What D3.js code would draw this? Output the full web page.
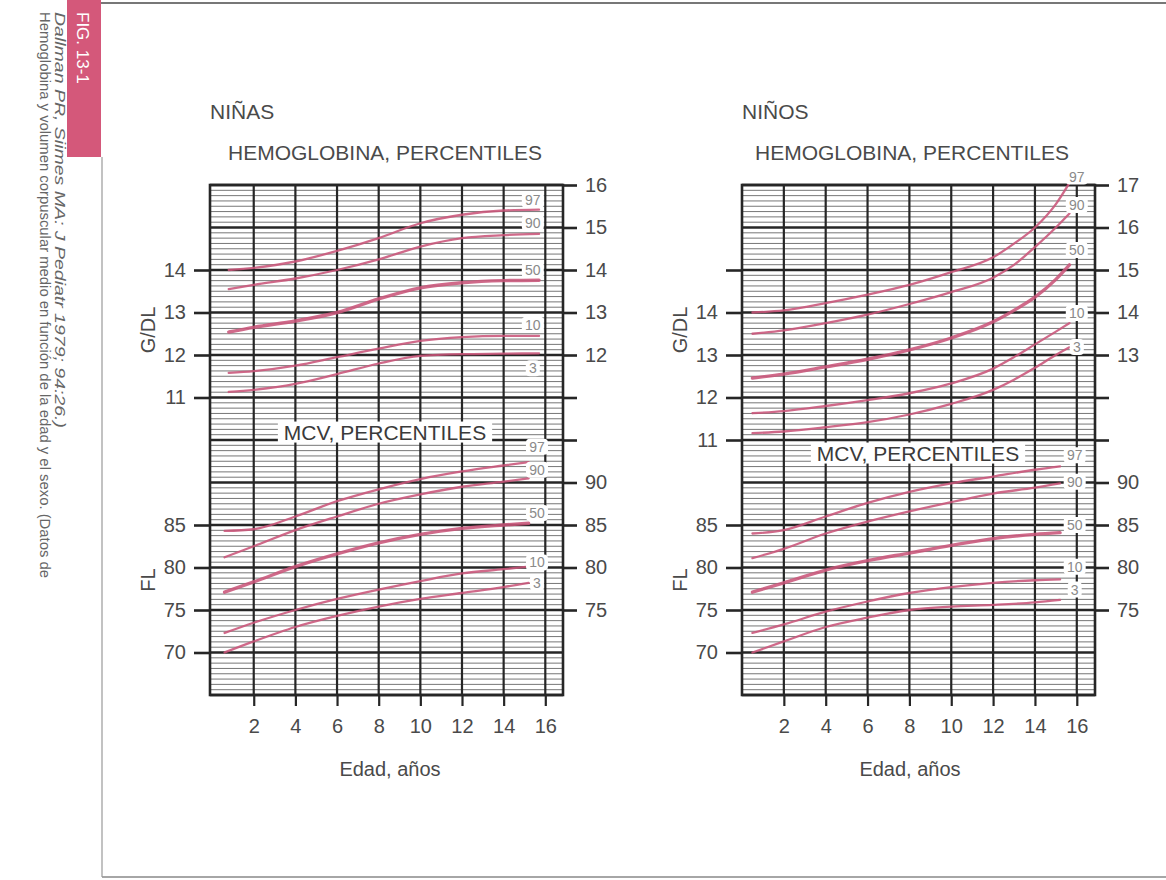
<!DOCTYPE html>
<html><head><meta charset="utf-8">
<script src="https://cdn.jsdelivr.net/npm/d3@7"></script>
<style>
body{margin:0;background:#fff}
svg{display:block}
text{font-family:"Liberation Sans",Arial,Helvetica,sans-serif}
</style>
</head><body>
<svg id="c" width="1166" height="880"></svg>
<script>
// ---------------- DATA ----------------
const percentiles = ["97", "90", "50", "10", "3"];
const xTicks = [2, 4, 6, 8, 10, 12, 14, 16];

// NIÑAS – hemoglobina (g/dL)
const ninasHbAges = [0.8, 2, 4, 6, 8, 10, 12, 14, 15.7];
const ninasHb97 = [14.0, 14.05, 14.2, 14.45, 14.75, 15.1, 15.3, 15.4, 15.42];
const ninasHb90 = [13.55, 13.65, 13.8, 14.0, 14.25, 14.55, 14.75, 14.82, 14.85];
const ninasHb50 = [12.54, 12.65, 12.8, 13.0, 13.32, 13.58, 13.7, 13.75, 13.76];
const ninasHb10 = [11.58, 11.62, 11.75, 11.95, 12.15, 12.33, 12.42, 12.45, 12.45];
const ninasHb3  = [11.13, 11.18, 11.32, 11.55, 11.8, 11.98, 12.02, 12.03, 12.04];
const ninasHbLabelLevels = [15.65, 15.11, 14.0, 12.71, 11.69];

// NIÑAS – MCV (fL)
const ninasMcvAges = [0.6, 2, 4, 6, 8, 10, 12, 14, 15.2];
const ninasMcv97 = [84.3, 84.5, 86.0, 87.8, 89.2, 90.4, 91.3, 92.0, 92.4];
const ninasMcv90 = [81.2, 82.5, 84.4, 86.0, 87.5, 88.6, 89.5, 90.1, 90.5];
const ninasMcv50 = [77.1, 78.3, 80.1, 81.6, 82.9, 83.9, 84.6, 85.0, 85.2];
const ninasMcv10 = [72.3, 73.5, 75.0, 76.3, 77.4, 78.4, 79.3, 79.8, 80.1];
const ninasMcv3  = [70.0, 71.3, 73.0, 74.3, 75.4, 76.3, 77.0, 77.7, 78.2];
const ninasMcvLabelLevels = [94.2, 91.5, 86.4, 80.6, 78.2];

// NIÑOS – hemoglobina (g/dL)
const ninosHbAges = [0.5, 2, 4, 6, 8, 10, 12, 13, 14, 15, 15.65];
const ninosHb97 = [14.0, 14.05, 14.22, 14.42, 14.65, 14.95, 15.3, 15.62, 16.0, 16.55, 17.05];
const ninosHb90 = [13.5, 13.58, 13.75, 13.95, 14.2, 14.48, 14.82, 15.12, 15.54, 16.0, 16.33];
const ninosHb50 = [12.46, 12.55, 12.72, 12.9, 13.12, 13.4, 13.78, 14.05, 14.36, 14.78, 15.12];
const ninosHb10 = [11.63, 11.68, 11.8, 11.94, 12.1, 12.33, 12.68, 12.95, 13.25, 13.55, 13.75];
const ninosHb3  = [11.16, 11.2, 11.3, 11.42, 11.6, 11.85, 12.18, 12.42, 12.7, 13.0, 13.18];
const ninosHbLabelLevels = [17.2, 16.53, 15.47, 13.99, 13.19];

// NIÑOS – MCV (fL)
const ninosMcvAges = [0.5, 2, 4, 6, 8, 10, 12, 14, 15.2];
const ninosMcv97 = [84.0, 84.4, 86.0, 87.6, 88.9, 89.9, 90.7, 91.5, 91.9];
const ninosMcv90 = [81.1, 82.2, 84.0, 85.4, 86.6, 87.7, 88.7, 89.4, 89.9];
const ninosMcv50 = [77.1, 78.2, 79.7, 80.8, 81.7, 82.6, 83.4, 83.9, 84.1];
const ninosMcv10 = [72.3, 73.3, 74.8, 76.0, 77.0, 77.7, 78.2, 78.5, 78.6];
const ninosMcv3  = [70.0, 71.3, 73.0, 74.1, 75.0, 75.4, 75.6, 75.9, 76.2];
const ninosMcvLabelLevels = [93.2, 90.1, 85.0, 80.1, 77.4];

// axis tick values
const ninasHbLeftTicks = [11, 12, 13, 14];
const ninasHbRightTicks = [10, 11, 12, 13, 14, 15, 16];
const ninasHbRightLabels = [12, 13, 14, 15, 16];
const ninosHbLeftTicks = [11, 12, 13, 14, 15];
const ninosHbLeftLabels = [11, 12, 13, 14];
const ninosHbRightTicks = [11, 12, 13, 14, 15, 16, 17];
const ninosHbRightLabels = [13, 14, 15, 16, 17];
const mcvLeftTicks = [70, 75, 80, 85];
const mcvRightTicks = [75, 80, 85, 90];

const captionLine1 = "Hemoglobina y volumen corpuscular medio en función de la edad y el sexo. (Datos de";
const captionLine2 = "Dallman PR, Siimes MA: J Pediatr 1979; 94:26.)";

// ---------------- DRAW ----------------
const svg = d3.select("#c");
const FONT_COL = "#4a4a4a";
const GRID_DARK = "#262626";
const PINK = "#c9557a";
const TOP = 185, MID = 440, BOT = 695;

// page decorations
svg.append("line").attr("x1", 100).attr("x2", 1166).attr("y1", 3).attr("y2", 3)
  .attr("stroke", "#777").attr("stroke-width", 2);
svg.append("line").attr("x1", 102).attr("x2", 1166).attr("y1", 877).attr("y2", 877)
  .attr("stroke", "#888").attr("stroke-width", 1.5);
svg.append("line").attr("x1", 102).attr("x2", 102).attr("y1", 157).attr("y2", 877)
  .attr("stroke", "#999").attr("stroke-width", 1.2);
svg.append("rect").attr("x", 67).attr("y", 0).attr("width", 34).attr("height", 157)
  .attr("fill", "#d4587a");
svg.append("text").attr("transform", "translate(77,12) rotate(90)")
  .attr("fill", "#fff").attr("font-size", 17).text("FIG. 13-1");
svg.append("text").attr("transform", "translate(40,12) rotate(90)")
  .attr("fill", "#666").attr("font-size", 14)
  .attr("textLength", 566).attr("lengthAdjust", "spacingAndGlyphs").text(captionLine1);
svg.append("text").attr("transform", "translate(55,12) rotate(90)")
  .attr("fill", "#666").attr("font-size", 14).attr("font-style", "italic")
  .attr("textLength", 416).attr("lengthAdjust", "spacingAndGlyphs").text(captionLine2);

function drawPanel(cfg) {
  const g = svg.append("g");
  const L = cfg.L, R = cfg.R;
  const x = d3.scaleLinear().domain(cfg.xDomain).range([L, R]);
  const yHb = d3.scaleLinear().domain(cfg.hbDomain).range([MID, TOP]);
  const yMcv = d3.scaleLinear().domain([65, 95]).range([BOT, MID]);
  const yGrid = d3.scaleLinear().domain([65, 125]).range([BOT, TOP]);

  // minor horizontal grid (8 subdivisions per major division)
  g.append("g").selectAll("line").data(d3.range(0, 96).filter(k => k % 8 !== 0).map(k => 65 + k * 5 / 8))
    .join("line")
    .attr("x1", L).attr("x2", R)
    .attr("y1", d => yGrid(d)).attr("y2", d => yGrid(d))
    .attr("stroke", "#5e5e5e").attr("stroke-width", 1).attr("stroke-opacity", 0.85);

  // major horizontal grid
  g.append("g").selectAll("line").data(d3.range(65, 126, 5))
    .join("line")
    .attr("x1", L).attr("x2", R)
    .attr("y1", d => yGrid(d)).attr("y2", d => yGrid(d))
    .attr("stroke", GRID_DARK).attr("stroke-width", 2.6);

  // vertical grid
  g.append("g").selectAll("line").data(xTicks)
    .join("line")
    .attr("x1", d => x(d)).attr("x2", d => x(d))
    .attr("y1", TOP).attr("y2", BOT)
    .attr("stroke", GRID_DARK).attr("stroke-width", 2.2);

  // frame
  g.append("rect").attr("x", L).attr("y", TOP).attr("width", R - L).attr("height", BOT - TOP)
    .attr("fill", "none").attr("stroke", GRID_DARK).attr("stroke-width", 2.6);

  // axes
  const styleAxis = (sel) => {
    sel.select(".domain").remove();
    sel.selectAll(".tick line").attr("stroke", GRID_DARK).attr("stroke-width", 2.6);
    sel.selectAll(".tick text").attr("fill", FONT_COL).attr("font-size", 20)
      .attr("font-family", "Liberation Sans, Arial, sans-serif");
  };
  g.append("g").attr("transform", `translate(${L},0)`)
    .call(d3.axisLeft(yHb).tickValues(cfg.hbLeftTicks).tickSize(16).tickPadding(8)
      .tickFormat(d => cfg.hbLeftLabels.includes(d) ? d : ""))
    .call(styleAxis);
  g.append("g").attr("transform", `translate(${R},0)`)
    .call(d3.axisRight(yHb).tickValues(cfg.hbRightTicks).tickSize(14).tickPadding(8)
      .tickFormat(d => cfg.hbRightLabels.includes(d) ? d : ""))
    .call(styleAxis);
  g.append("g").attr("transform", `translate(${L},0)`)
    .call(d3.axisLeft(yMcv).tickValues(mcvLeftTicks).tickSize(16).tickPadding(8))
    .call(styleAxis);
  g.append("g").attr("transform", `translate(${R},0)`)
    .call(d3.axisRight(yMcv).tickValues(mcvRightTicks).tickSize(14).tickPadding(8))
    .call(styleAxis);
  g.append("g").attr("transform", `translate(0,${BOT})`)
    .call(d3.axisBottom(x).tickValues(xTicks).tickSize(11).tickPadding(13))
    .call(styleAxis)
    .call(s => s.selectAll(".tick line").attr("stroke-width", 2.2));

  // curves
  const lineHb = d3.line().x(d => x(d[0])).y(d => yHb(d[1])).curve(d3.curveMonotoneX);
  const lineMcv = d3.line().x(d => x(d[0])).y(d => yMcv(d[1])).curve(d3.curveMonotoneX);
  cfg.hbSeries.forEach((s, i) => {
    g.append("path").datum(d3.zip(cfg.hbAges, s)).attr("d", lineHb)
      .attr("fill", "none").attr("stroke", PINK).attr("stroke-opacity", 0.88)
      .attr("stroke-width", percentiles[i] === "50" ? 3.4 : 2.3).attr("stroke-linecap", "round");
  });
  cfg.mcvSeries.forEach((s, i) => {
    g.append("path").datum(d3.zip(cfg.mcvAges, s)).attr("d", lineMcv)
      .attr("fill", "none").attr("stroke", PINK).attr("stroke-opacity", 0.88)
      .attr("stroke-width", percentiles[i] === "50" ? 3.4 : 2.3).attr("stroke-linecap", "round");
  });

  // percentile labels
  const addLabels = (levels, yScale, age) => {
    const lg = g.append("g");
    percentiles.forEach((p, i) => {
      const cx = x(age), cy = yScale(levels[i]);
      const w = p.length * 8 + 6;
      lg.append("rect").attr("x", cx - w / 2).attr("y", cy - 8).attr("width", w).attr("height", 16)
        .attr("fill", "#fff").attr("rx", 4);
      lg.append("text").attr("x", cx).attr("y", cy).attr("dy", "0.36em")
        .attr("text-anchor", "middle").attr("font-size", 14).attr("fill", "#8a8a8a").text(p);
    });
  };
  addLabels(cfg.hbLabelLevels, yHb, cfg.labelAge);
  addLabels(cfg.mcvLabelLevels, yMcv, cfg.labelAgeMcv);

  // MCV title box
  const mg = g.append("g");
  const mrect = mg.append("rect").attr("fill", "#fff");
  const mt = mg.append("text").attr("x", cfg.mcvTitleX).attr("y", cfg.mcvTitleY).attr("dy", "0.36em")
    .attr("text-anchor", "middle").attr("font-size", 21).attr("fill", "#3a3a3a")
    .text("MCV, PERCENTILES");
  const bb = mt.node().getBBox();
  mrect.attr("x", bb.x - 6).attr("y", bb.y + 1).attr("width", bb.width + 12).attr("height", bb.height - 2);

  // titles
  g.append("text").attr("x", L).attr("y", 119).attr("font-size", 21).attr("fill", FONT_COL).text(cfg.title);
  g.append("text").attr("x", cfg.subX).attr("y", 160).attr("font-size", 21).attr("fill", FONT_COL)
    .text("HEMOGLOBINA, PERCENTILES");
  g.append("text").attr("transform", `translate(${L - 55},330) rotate(-90)`)
    .attr("text-anchor", "middle").attr("font-size", 20).attr("fill", FONT_COL).text("G/DL");
  g.append("text").attr("transform", `translate(${L - 55},580) rotate(-90)`)
    .attr("text-anchor", "middle").attr("font-size", 20).attr("fill", FONT_COL).text("FL");
  g.append("text").attr("x", cfg.edadX).attr("y", 776).attr("text-anchor", "middle")
    .attr("font-size", 20).attr("fill", FONT_COL).text("Edad, años");
}

drawPanel({
  L: 210, R: 563, xDomain: [-0.1, 16.85], hbDomain: [10, 16],
  hbAges: ninasHbAges, hbSeries: [ninasHb97, ninasHb90, ninasHb50, ninasHb10, ninasHb3],
  mcvAges: ninasMcvAges, mcvSeries: [ninasMcv97, ninasMcv90, ninasMcv50, ninasMcv10, ninasMcv3],
  hbLabelLevels: ninasHbLabelLevels, mcvLabelLevels: ninasMcvLabelLevels,
  labelAge: 15.4, labelAgeMcv: 15.6,
  hbLeftTicks: ninasHbLeftTicks, hbLeftLabels: ninasHbLeftTicks,
  hbRightTicks: ninasHbRightTicks, hbRightLabels: ninasHbRightLabels,
  mcvTitleX: 385, mcvTitleY: 432, title: "NIÑAS", subX: 228, edadX: 390
});
drawPanel({
  L: 742, R: 1095, xDomain: [0, 16.87], hbDomain: [11, 17],
  hbAges: ninosHbAges, hbSeries: [ninosHb97, ninosHb90, ninosHb50, ninosHb10, ninosHb3],
  mcvAges: ninosMcvAges, mcvSeries: [ninosMcv97, ninosMcv90, ninosMcv50, ninosMcv10, ninosMcv3],
  hbLabelLevels: ninosHbLabelLevels, mcvLabelLevels: ninosMcvLabelLevels,
  labelAge: 16.0, labelAgeMcv: 15.9,
  hbLeftTicks: ninosHbLeftTicks, hbLeftLabels: ninosHbLeftLabels,
  hbRightTicks: ninosHbRightTicks, hbRightLabels: ninosHbRightLabels,
  mcvTitleX: 918, mcvTitleY: 453, title: "NIÑOS", subX: 755, edadX: 910
});
</script>
</body></html>
